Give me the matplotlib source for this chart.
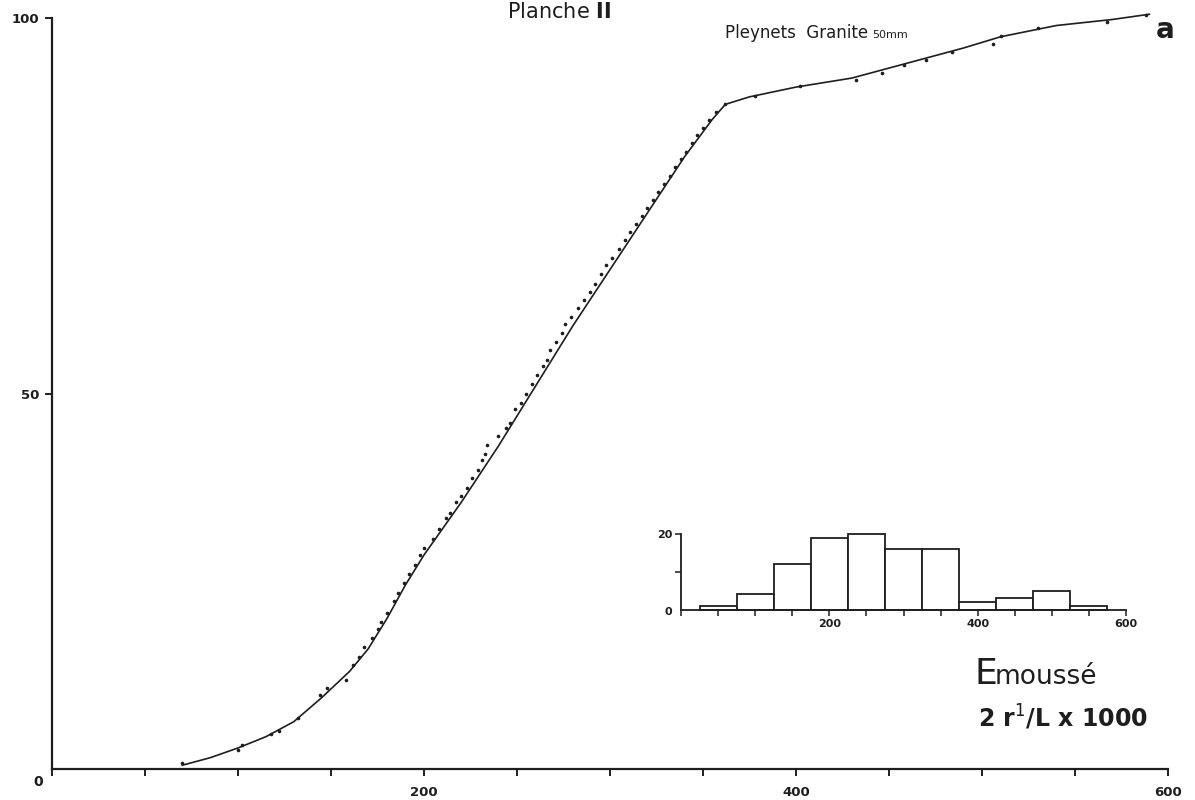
import matplotlib
matplotlib.use("Agg")
import matplotlib.pyplot as plt

# ---------------- data ----------------
# smooth cumulative curve (x = 2r1/L x 1000, y = cumulative %)
curve_x = [70, 85, 100, 115, 130, 145, 160, 170, 180, 190, 200, 220, 240, 260,
           280, 300, 320, 340, 355, 362, 375, 400, 430, 460, 490, 510, 540, 570, 590]
curve_y = [0.5, 1.5, 2.8, 4.3, 6.3, 9.5, 13, 16, 20, 24.5, 28.5, 35.5, 43, 51,
           59, 66.5, 74, 81.5, 86.5, 88.5, 89.5, 90.8, 92, 94, 96, 97.5, 99, 99.8, 100.5]

# individual measured points
dots_x = [70, 100, 102, 118, 122, 132, 144, 148, 158, 162, 165, 168, 172, 175, 177,
          180, 184, 186, 189, 192, 195, 198, 200, 205, 208, 212, 214, 217, 220, 223,
          226, 229, 231, 233, 234, 240, 244, 246, 249, 252, 255, 258, 261, 264, 266,
          268, 271, 274, 276, 279, 283, 286, 289, 292, 295, 298, 301, 305, 308, 311,
          314, 317, 320, 323, 326, 329, 332, 335, 338, 341, 344, 347, 350, 353, 357,
          362, 378, 402, 432, 446, 458, 470, 484, 506, 510, 530, 567, 588]
dots_y = [0.8, 2.5, 3.2, 4.6, 5.0, 6.8, 9.8, 10.8, 11.9, 13.8, 14.9, 16.2, 17.4, 18.6, 19.6,
          20.8, 22.4, 23.5, 24.8, 26.0, 27.1, 28.5, 29.4, 30.6, 32.0, 33.4, 34.1, 35.5, 36.3, 37.4,
          38.7, 39.8, 41.1, 42.0, 43.2, 44.3, 45.4, 46.1, 47.9, 48.8, 50.0, 51.2, 52.4, 53.6, 54.5,
          55.8, 56.9, 58.1, 59.3, 60.2, 61.4, 62.5, 63.5, 64.6, 65.9, 67.1, 68.0, 69.3, 70.4, 71.5,
          72.6, 73.6, 74.7, 75.8, 76.8, 77.9, 79.0, 80.1, 81.2, 82.1, 83.3, 84.4, 85.3, 86.4, 87.5,
          88.6, 89.6, 90.9, 91.8, 92.7, 93.7, 94.4, 95.5, 96.6, 97.6, 98.7, 99.5, 100.4]

# histogram (inset)
hist_left = [25, 75, 125, 175, 225, 275, 325, 375, 425, 475, 525]
hist_counts = [1, 4, 12, 19, 20, 16, 16, 2, 3, 5, 1]
bin_width = 50

main_xticks = [0, 50, 100, 150, 200, 250, 300, 350, 400, 450, 500, 550, 600]
main_xlabels = ["", "", "", "", "200", "", "", "", "400", "", "", "", "600"]
main_yticks = [50, 100]
inset_xticks = main_xticks
inset_xlabels = main_xlabels
inset_yticks = [10, 20]
inset_ylabels = ["", "20"]

ink = "#1e1e1e"

# ---------------- figure ----------------
fig = plt.figure(figsize=(11.95, 8.0), dpi=100)
fig.patch.set_facecolor("white")

ax = fig.add_axes([52/1195, 31/800, 1116/1195, 751/800])
ax.plot(curve_x, curve_y, color=ink, lw=1.2, clip_on=False, zorder=3)
ax.plot(dots_x, dots_y, ls="none", marker="o", ms=1.6, color=ink, clip_on=False, zorder=4)
ax.set_xlim(0, 600)
ax.set_ylim(0, 100)
for s in ["top", "right"]:
    ax.spines[s].set_visible(False)
for s in ["left", "bottom"]:
    ax.spines[s].set_color(ink)
    ax.spines[s].set_linewidth(1.6)
ax.set_xticks(main_xticks)
ax.set_xticklabels(main_xlabels, fontsize=9.5, fontweight="bold", color=ink)
ax.set_yticks(main_yticks)
ax.set_yticklabels([str(v) for v in main_yticks], fontsize=9.5, fontweight="bold", color=ink)
ax.tick_params(axis="x", direction="out", length=5, width=1.4, color=ink, pad=7)
ax.tick_params(axis="y", direction="out", length=5, width=1.4, color=ink, pad=4)
ax.text(-0.008, -0.008, "0", transform=ax.transAxes, ha="right", va="top",
        fontsize=10, fontweight="bold", color=ink)

# inset histogram
ai = fig.add_axes([681/1195, 190.5/800, 445/1195, 75.5/800])
ai.bar(hist_left, hist_counts, width=bin_width, align="edge", facecolor="white",
       edgecolor=ink, linewidth=1.3, clip_on=False)
ai.set_xlim(0, 600)
ai.set_ylim(0, 20)
for s in ["top", "right"]:
    ai.spines[s].set_visible(False)
for s in ["left", "bottom"]:
    ai.spines[s].set_color(ink)
    ai.spines[s].set_linewidth(1.3)
ai.set_xticks(inset_xticks)
ai.set_xticklabels(inset_xlabels, fontsize=8, fontweight="bold", color=ink)
ai.set_yticks(inset_yticks)
ai.set_yticklabels(inset_ylabels, fontsize=8, fontweight="bold", color=ink)
ai.tick_params(axis="x", direction="out", length=4, width=1.1, color=ink, pad=3)
ai.tick_params(axis="y", direction="out", length=4, width=1.1, color=ink, pad=2)
ai.set_facecolor("none")
ai.text(-0.02, -0.03, "0", transform=ai.transAxes, ha="right", va="center",
        fontsize=8, fontweight="bold", color=ink)

# texts
fig.text(507/1195, 1 - 2/800, r"Planche $\mathbf{II}$", ha="left", va="top",
         fontsize=15, color=ink)
fig.text(725/1195, 1 - 38/800, "Pleynets  Granite", ha="left", va="baseline",
         fontsize=12, color=ink)
fig.text(872/1195, 1 - 38/800, "50mm", ha="left", va="baseline", fontsize=8, color=ink)
fig.text(1165/1195, 1 - 38/800, "a", ha="center", va="baseline", fontsize=20,
         fontweight="bold", color=ink)
fig.text(975/1195, 1 - 684/800, "E", ha="left", va="baseline", fontsize=26, color=ink)
fig.text(995/1195, 1 - 684/800, "moussé", ha="left", va="baseline", fontsize=19, color=ink)
fig.text(978/1195, 1 - 727/800, "2 r$^{1}$/L x 1000", ha="left", va="baseline",
         fontsize=17, fontweight="bold", color=ink)

fig.savefig("out.png", dpi=100, facecolor="white")
